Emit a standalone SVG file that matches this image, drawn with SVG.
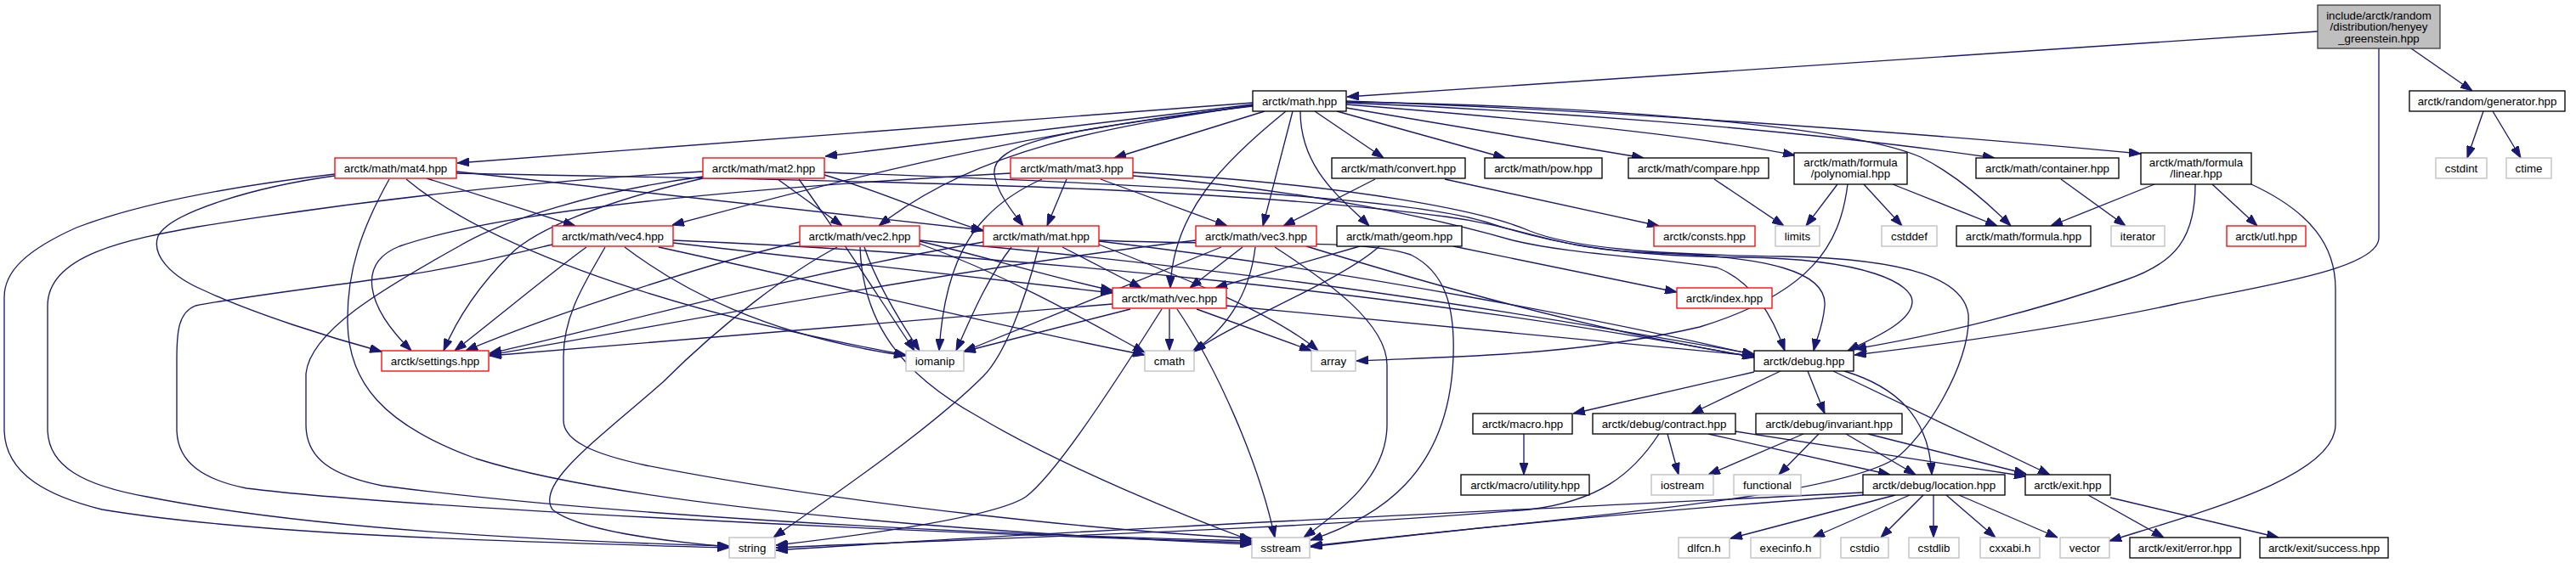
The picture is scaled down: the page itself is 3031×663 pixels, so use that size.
<svg xmlns="http://www.w3.org/2000/svg" width="3031" height="663" viewBox="0 0 3031 663">
<style>
text{font-family:"Liberation Sans",Arial,Helvetica,sans-serif;font-size:13.33px;text-anchor:middle;fill:#000}
.b rect{fill:#fff;stroke:#000;stroke-width:1.33}
.r rect{fill:#fff;stroke:#ff0000;stroke-width:1.33}
.g rect{fill:#fff;stroke:#bfbfbf;stroke-width:1.33}
#edges path{fill:none;stroke:#191970;stroke-width:1.33;marker-end:url(#ah)}
</style>
<defs>
<marker id="ah" markerUnits="userSpaceOnUse" markerWidth="14" markerHeight="10" viewBox="0 0 14 10" refX="14" refY="5" orient="auto"><path d="M0,0 L14,5 L0,10 z" fill="#191970" stroke="#191970" stroke-width="1"/></marker>
</defs>
<rect width="3031" height="663" fill="#fff"/>
<g id="edges">
<path d="M2727,37 L1585,114"/>
<path d="M2837,57 L2909,107"/>
<path d="M2799,57 L2799,280 C2799,318 2652,338 2560,358 C2440,384 2290,405 2182,418"/>
<path d="M2922,131 L2903,186"/>
<path d="M2933,131 L2966,186"/>
<path d="M1474,121 L538,192"/>
<path d="M1474,123 L971,184"/>
<path d="M1488,131 L1311,186"/>
<path d="M1474,125 C1250,150 1050,195 791,265"/>
<path d="M1474,124 C1300,150 1150,175 1034,266"/>
<path d="M1474,124 C1300,150 1165,160 1170,205 C1172,225 1190,248 1204,266"/>
<path d="M1521,131 L1486,266"/>
<path d="M1513,131 C1440,190 1380,250 1377,339"/>
<path d="M1530,131 C1530,200 1580,235 1611,266"/>
<path d="M1547,131 L1628,186"/>
<path d="M1573,131 L1771,186"/>
<path d="M1584,127 L1934,186"/>
<path d="M1584,123 C1800,140 2000,160 2112,183"/>
<path d="M1584,121 C1800,130 2100,150 2347,186"/>
<path d="M1584,119 C1900,130 2300,160 2519,181"/>
<path d="M1584,120 C1900,125 2180,150 2260,185 C2300,205 2340,240 2366,266"/>
<path d="M1618,211 L1510,266"/>
<path d="M1700,211 L1952,266"/>
<path d="M2017,211 L2099,266"/>
<path d="M2162,217 L2125,266"/>
<path d="M2193,217 L2238,266"/>
<path d="M2227,217 L2350,266"/>
<path d="M2174,217 C2165,290 2130,345 2000,385 C1850,420 1700,420 1596,425"/>
<path d="M2425,211 L2501,266"/>
<path d="M2535,217 L2413,266"/>
<path d="M2603,217 L2656,266"/>
<path d="M2583,217 C2583,280 2560,310 2500,330 C2400,365 2280,395 2182,411"/>
<path d="M2649,217 C2720,250 2748,290 2748,340 L2748,500 C2748,560 2600,600 2482,637"/>
<path d="M2064,438 L1851,487"/>
<path d="M2095,437 L1990,487"/>
<path d="M2127,437 L2147,487"/>
<path d="M2170,437 C2230,455 2270,490 2273,559"/>
<path d="M2157,437 L2412,559"/>
<path d="M1793,511 L1793,559"/>
<path d="M1962,511 L1975,559"/>
<path d="M1952,511 C1920,560 1880,590 1800,600 C1500,625 1200,632 913,645"/>
<path d="M2010,511 L2224,559"/>
<path d="M2042,508 L2384,561"/>
<path d="M2122,511 L2010,559"/>
<path d="M2140,511 L2093,559"/>
<path d="M2172,511 L2254,559"/>
<path d="M2198,511 L2384,558"/>
<path d="M2230,583 L2036,634"/>
<path d="M2247,583 L2133,633"/>
<path d="M2263,583 L2213,633"/>
<path d="M2275,583 L2275,633"/>
<path d="M2290,583 L2348,633"/>
<path d="M2305,583 L2421,633"/>
<path d="M2192,580 C1800,600 1300,622 913,648"/>
<path d="M2192,583 C1900,605 1700,625 1542,643"/>
<path d="M2457,583 L2546,633"/>
<path d="M2483,586 L2681,633"/>
<path d="M394,207 C300,220 200,250 186,278 C178,300 200,325 240,342 C300,370 390,398 449,414"/>
<path d="M394,205 C250,222 150,245 90,268 C30,295 5,320 5,350 L5,505 C5,560 60,585 120,600 C300,630 600,638 858,645"/>
<path d="M458,211 C425,270 408,320 409,380 C410,450 450,500 560,540 C750,600 1200,630 1473,641"/>
<path d="M502,210 L677,266"/>
<path d="M537,202 L1157,271"/>
<path d="M478,211 C560,280 750,360 1066,418"/>
<path d="M537,204 C900,212 1400,215 1700,255 C1800,268 1830,295 1950,298 C2080,302 2150,320 2147,360 C2145,385 2137,400 2134,413"/>
<path d="M827,202 C600,215 400,240 233,267 C150,282 56,300 56,360 L56,505 C56,550 100,572 173,585 C350,620 600,636 858,643"/>
<path d="M827,208 C700,225 590,260 540,290 C450,340 365,390 360,440 L360,500 C360,540 390,560 450,572 C700,605 1100,628 1473,637"/>
<path d="M827,210 C750,228 640,260 600,300 C570,330 540,370 522,413"/>
<path d="M915,211 L991,266"/>
<path d="M970,206 C1050,230 1100,255 1157,272"/>
<path d="M940,211 C990,280 1040,360 1076,413"/>
<path d="M970,203 C1300,215 1650,230 1750,262 C1820,285 1900,302 2050,303 C2200,305 2250,335 2250,355 C2250,380 2200,400 2174,413"/>
<path d="M1255,211 L1232,266"/>
<path d="M1295,211 L1444,266"/>
<path d="M1226,211 C1150,245 1112,300 1105,413"/>
<path d="M1189,204 C900,220 600,245 470,290 C420,310 430,360 484,413"/>
<path d="M1333,203 C1600,218 1750,250 1800,272 C1850,292 1950,300 2100,302 C2250,305 2310,330 2316,370 C2320,430 2260,520 2230,540 C2150,590 1800,612 1542,644"/>
<path d="M1333,207 C1550,225 1700,260 1780,283 C1850,300 1950,303 2020,315 C2060,330 2085,370 2100,413"/>
<path d="M1250,291 L1343,339"/>
<path d="M1222,291 C1205,360 1180,420 1157,443 C1100,500 1000,570 910,633"/>
<path d="M1157,285 C900,330 700,390 576,416"/>
<path d="M1190,291 C1160,330 1140,380 1125,413"/>
<path d="M1293,283 C1450,290 1600,280 1660,300 C1700,320 1712,360 1710,420 C1705,560 1620,610 1542,636"/>
<path d="M1293,284 C1600,320 1900,380 2064,418"/>
<path d="M1293,288 C1400,330 1500,370 1551,413"/>
<path d="M690,291 C650,320 590,370 535,413"/>
<path d="M712,291 C690,330 663,370 663,420 L663,495 C663,520 700,535 760,548 C1000,595 1300,625 1473,634"/>
<path d="M650,288 C600,300 540,315 470,325 C380,338 280,350 230,360 C210,368 208,390 208,423 L208,505 C208,545 240,565 290,575 C450,595 1000,625 1473,639"/>
<path d="M735,291 C800,340 900,395 1066,419"/>
<path d="M775,291 C1000,340 1200,390 1347,418"/>
<path d="M792,286 L1309,345"/>
<path d="M792,283 C1200,300 1700,350 2064,421"/>
<path d="M1082,284 C1150,300 1250,330 1309,342"/>
<path d="M985,291 C930,320 850,380 780,450 C700,520 630,570 650,600 C680,625 780,637 858,644"/>
<path d="M1012,291 C1015,380 1060,440 1150,490 C1250,550 1400,610 1473,637"/>
<path d="M1017,291 C1030,330 1060,380 1082,413"/>
<path d="M941,285 C850,305 650,370 548,413"/>
<path d="M1082,287 C1200,330 1300,390 1347,415"/>
<path d="M1082,283 C1500,320 1800,370 2064,417"/>
<path d="M1462,291 L1400,339"/>
<path d="M1437,291 L1134,414"/>
<path d="M1477,291 C1470,350 1440,390 1403,414"/>
<path d="M1407,283 C1100,320 800,380 576,418"/>
<path d="M1500,291 C1560,330 1632,380 1632,430 L1632,500 C1632,560 1580,600 1534,633"/>
<path d="M1537,290 C1700,340 1900,395 2064,420"/>
<path d="M1309,358 L576,419"/>
<path d="M1330,364 L1134,414"/>
<path d="M1367,364 C1300,470 1240,560 1207,585 C1170,610 1000,632 913,642"/>
<path d="M1376,364 L1376,413"/>
<path d="M1385,364 C1430,430 1480,540 1500,633"/>
<path d="M1408,364 L1543,413"/>
<path d="M1443,360 L2064,419"/>
<path d="M1600,290 L1430,339"/>
<path d="M1623,290 C1580,330 1450,380 1405,414"/>
<path d="M1710,290 L1973,344"/>
</g>
<g id="root"><rect x="2727" y="6" width="144" height="51" fill="#bfbfbf" stroke="#404040" stroke-width="1.33"/><text x="2799" y="23">include/arctk/random</text><text x="2799" y="36.3">/distribution/henyey</text><text x="2799" y="49.6">_greenstein.hpp</text></g>
<g id="math" class="b"><rect x="1474" y="107" width="110" height="24"/><text x="1529" y="124">arctk/math.hpp</text></g>
<g id="generator" class="b"><rect x="2835" y="107" width="183" height="24"/><text x="2926.5" y="124">arctk/random/generator.hpp</text></g>
<g id="cstdint" class="g"><rect x="2866" y="186" width="60" height="24"/><text x="2896" y="203">cstdint</text></g>
<g id="ctime" class="g"><rect x="2949" y="186" width="53" height="24"/><text x="2975.5" y="203">ctime</text></g>
<g id="mat4" class="r"><rect x="394" y="186" width="143" height="24"/><text x="465.5" y="203">arctk/math/mat4.hpp</text></g>
<g id="mat2" class="r"><rect x="827" y="186" width="143" height="24"/><text x="898.5" y="203">arctk/math/mat2.hpp</text></g>
<g id="mat3" class="r"><rect x="1189" y="186" width="144" height="24"/><text x="1261" y="203">arctk/math/mat3.hpp</text></g>
<g id="convert" class="b"><rect x="1567" y="186" width="157" height="24"/><text x="1645.5" y="203">arctk/math/convert.hpp</text></g>
<g id="pow" class="b"><rect x="1747" y="186" width="138" height="24"/><text x="1816" y="203">arctk/math/pow.hpp</text></g>
<g id="compare" class="b"><rect x="1916" y="186" width="165" height="24"/><text x="1998.5" y="203">arctk/math/compare.hpp</text></g>
<g id="polynomial" class="b"><rect x="2111" y="180" width="133" height="37"/><text x="2177.5" y="195.7">arctk/math/formula</text><text x="2177.5" y="209">/polynomial.hpp</text></g>
<g id="container" class="b"><rect x="2325" y="186" width="168" height="24"/><text x="2409" y="203">arctk/math/container.hpp</text></g>
<g id="linear" class="b"><rect x="2519" y="180" width="130" height="37"/><text x="2584" y="195.7">arctk/math/formula</text><text x="2584" y="209">/linear.hpp</text></g>
<g id="vec4" class="r"><rect x="650" y="266" width="142" height="24"/><text x="721" y="283">arctk/math/vec4.hpp</text></g>
<g id="vec2" class="r"><rect x="941" y="266" width="141" height="24"/><text x="1011.5" y="283">arctk/math/vec2.hpp</text></g>
<g id="mat" class="r"><rect x="1157" y="266" width="136" height="24"/><text x="1225" y="283">arctk/math/mat.hpp</text></g>
<g id="vec3" class="r"><rect x="1407" y="266" width="142" height="24"/><text x="1478" y="283">arctk/math/vec3.hpp</text></g>
<g id="geom" class="b"><rect x="1573" y="266" width="147" height="24"/><text x="1646.5" y="283">arctk/math/geom.hpp</text></g>
<g id="consts" class="r"><rect x="1946" y="266" width="119" height="24"/><text x="2005.5" y="283">arctk/consts.hpp</text></g>
<g id="limits" class="g"><rect x="2089" y="266" width="52" height="24"/><text x="2115" y="283">limits</text></g>
<g id="cstddef" class="g"><rect x="2214" y="266" width="65" height="24"/><text x="2246.5" y="283">cstddef</text></g>
<g id="formula" class="b"><rect x="2302" y="266" width="158" height="24"/><text x="2381" y="283">arctk/math/formula.hpp</text></g>
<g id="iterator" class="g"><rect x="2484" y="266" width="63" height="24"/><text x="2515.5" y="283">iterator</text></g>
<g id="utl" class="r"><rect x="2620" y="266" width="93" height="24"/><text x="2666.5" y="283">arctk/utl.hpp</text></g>
<g id="vec" class="r"><rect x="1309" y="339" width="134" height="24"/><text x="1376" y="356">arctk/math/vec.hpp</text></g>
<g id="index" class="r"><rect x="1973" y="339" width="112" height="24"/><text x="2029" y="356">arctk/index.hpp</text></g>
<g id="settings" class="r"><rect x="449" y="413" width="126" height="24"/><text x="512" y="430">arctk/settings.hpp</text></g>
<g id="iomanip" class="g"><rect x="1066" y="413" width="68" height="24"/><text x="1100" y="430">iomanip</text></g>
<g id="cmath" class="g"><rect x="1347" y="413" width="58" height="24"/><text x="1376" y="430">cmath</text></g>
<g id="array" class="g"><rect x="1543" y="413" width="52" height="24"/><text x="1569" y="430">array</text></g>
<g id="debug" class="b"><rect x="2064" y="413" width="117" height="24"/><text x="2122.5" y="430">arctk/debug.hpp</text></g>
<g id="macro" class="b"><rect x="1733" y="487" width="117" height="24"/><text x="1791.5" y="504">arctk/macro.hpp</text></g>
<g id="contract" class="b"><rect x="1874" y="487" width="168" height="24"/><text x="1958" y="504">arctk/debug/contract.hpp</text></g>
<g id="invariant" class="b"><rect x="2066" y="487" width="172" height="24"/><text x="2152" y="504">arctk/debug/invariant.hpp</text></g>
<g id="utility" class="b"><rect x="1719" y="559" width="151" height="24"/><text x="1794.5" y="576">arctk/macro/utility.hpp</text></g>
<g id="iostream" class="g"><rect x="1943" y="559" width="73" height="24"/><text x="1979.5" y="576">iostream</text></g>
<g id="functional" class="g"><rect x="2040" y="559" width="79" height="24"/><text x="2079.5" y="576">functional</text></g>
<g id="location" class="b"><rect x="2192" y="559" width="167" height="24"/><text x="2275.5" y="576">arctk/debug/location.hpp</text></g>
<g id="exit" class="b"><rect x="2383" y="559" width="100" height="24"/><text x="2433" y="576">arctk/exit.hpp</text></g>
<g id="string" class="g"><rect x="858" y="633" width="54" height="24"/><text x="885" y="650">string</text></g>
<g id="sstream" class="g"><rect x="1473" y="633" width="68" height="24"/><text x="1507" y="650">sstream</text></g>
<g id="dlfcn" class="g"><rect x="1975" y="633" width="60" height="24"/><text x="2005" y="650">dlfcn.h</text></g>
<g id="execinfo" class="g"><rect x="2060" y="633" width="82" height="24"/><text x="2101" y="650">execinfo.h</text></g>
<g id="cstdio" class="g"><rect x="2166" y="633" width="56" height="24"/><text x="2194" y="650">cstdio</text></g>
<g id="cstdlib" class="g"><rect x="2246" y="633" width="59" height="24"/><text x="2275.5" y="650">cstdlib</text></g>
<g id="cxxabi" class="g"><rect x="2330" y="633" width="70" height="24"/><text x="2365" y="650">cxxabi.h</text></g>
<g id="vector" class="g"><rect x="2424" y="633" width="58" height="24"/><text x="2453" y="650">vector</text></g>
<g id="error" class="b"><rect x="2506" y="633" width="130" height="24"/><text x="2571" y="650">arctk/exit/error.hpp</text></g>
<g id="success" class="b"><rect x="2659" y="633" width="151" height="24"/><text x="2734.5" y="650">arctk/exit/success.hpp</text></g>
</svg>
